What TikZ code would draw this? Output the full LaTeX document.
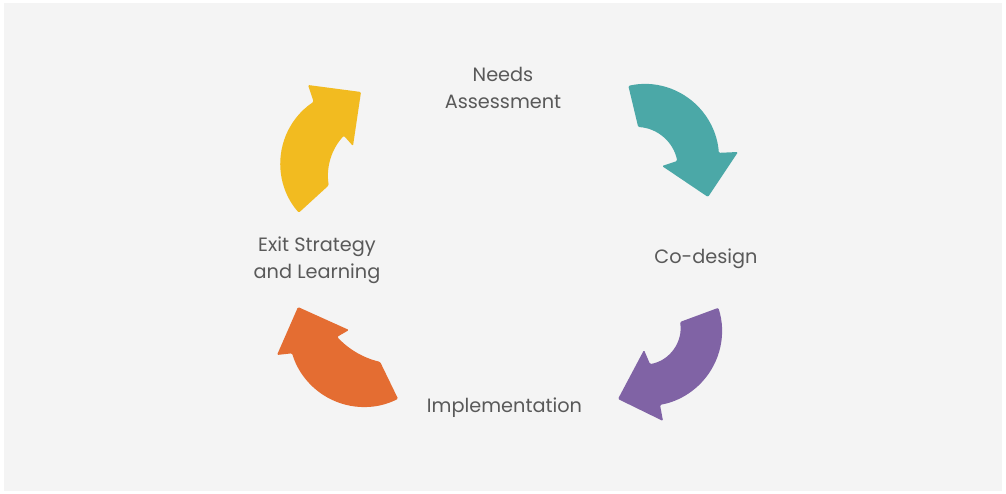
\documentclass[tikz,border=0pt]{standalone}
\usepackage{fontspec}
\setmainfont{Poppins}
\usetikzlibrary{calc}
\definecolor{panel}{HTML}{F4F4F4}
\definecolor{txt}{HTML}{595959}
\definecolor{cteal}{HTML}{4BA8A7}
\definecolor{cpurple}{HTML}{8063A5}
\definecolor{corange}{HTML}{E46D32}
\definecolor{cyellow}{HTML}{F2BB20}
\begin{document}
\begin{tikzpicture}[x=1pt,y=-1pt,
  steplabel/.style={text=txt,font=\fontsize{19.3}{27}\selectfont,align=center,inner sep=0pt,anchor=base},
  bentarrow/.style={rounded corners=1.2pt}]
\useasboundingbox (0,0) rectangle (1006,494);
\fill[white] (0,0) rectangle (1006,494);
\fill[panel] (4,3) rectangle (1002,491);

% centres of the outer and inner edges of the four curved arrows
\coordinate (c1) at (645,158);   \coordinate (i1) at (636,169);
\coordinate (c2) at (647,331);   \coordinate (i2) at (643.5,327.7);
\coordinate (c3) at (364,332);   \coordinate (i3) at (399,280);
\coordinate (c4) at (355,163);   \coordinate (i4) at (387,176);

% teal: needs assessment -> co-design
\fill[cteal,bentarrow] ($(c1)+(-103:74)$) arc[start angle=-103,end angle=-4,radius=74]
  -- (738,152) -- (708,197) -- (662,166) -- ($(i1)+(-11:42)$)
  arc[start angle=-11,end angle=-87,radius=42] -- cycle;

% purple: co-design -> implementation
\fill[cpurple,bentarrow] ($(c2)+(-18:75)$) arc[start angle=-18,end angle=80,radius=75]
  -- (663,421) -- (618,399) -- (644,350) -- ($(i2)+(79.8:37)$)
  arc[start angle=79.8,end angle=-8.9,radius=37] -- cycle;

% orange: implementation -> exit strategy
\fill[corange,bentarrow] ($(c3)+(63:75)$) arc[start angle=63,end angle=163.5,radius=75]
  -- (277,355) -- (298,307) -- (349,330) -- ($(i3)+(137.4:84)$)
  arc[start angle=137.4,end angle=103,radius=84] -- cycle;

% yellow: exit strategy -> needs assessment
\fill[cyellow,bentarrow] ($(c4)+(138.5:75)$) arc[start angle=138.5,end angle=236.7,radius=74]
  -- (308,85) -- (361,92) -- (353,146) -- ($(i4)+(223:59)$)
  arc[start angle=223,end angle=170.9,radius=59] -- cycle;

\node[steplabel] (needs) at (503,109) {Needs\\Assessment};
\node[steplabel] (codesign) at (706,264) {Co-design};
\node[steplabel] (impl) at (504.5,412) {Implementation};
\node[steplabel] (exit) at (317,278) {Exit Strategy\\and Learning};
\end{tikzpicture}
\end{document}
